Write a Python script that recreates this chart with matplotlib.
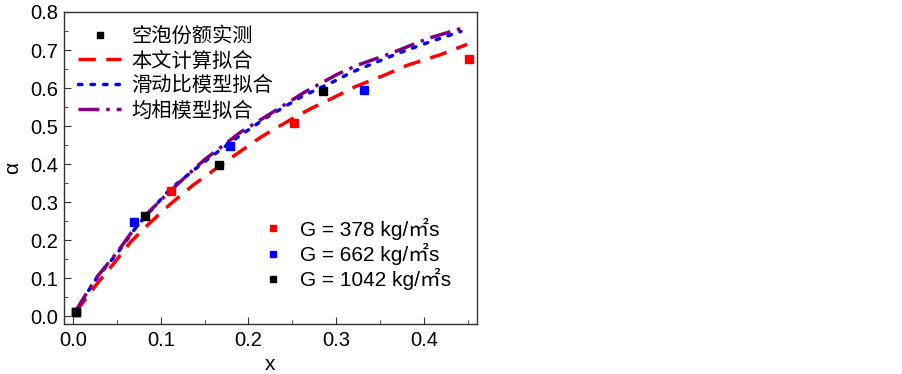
import matplotlib
matplotlib.use("Agg")
import matplotlib.pyplot as plt
from matplotlib.lines import Line2D
from matplotlib.ticker import MultipleLocator

plt.rcParams['font.family'] = ['Liberation Sans', 'Noto Sans CJK SC', 'DejaVu Sans']

# measured void fraction data
x_378 = [0.003, 0.112, 0.252, 0.451]
a_378 = [0.012, 0.329, 0.508, 0.676]
x_662 = [0.003, 0.070, 0.179, 0.332]
a_662 = [0.012, 0.247, 0.448, 0.596]
x_1042 = [0.003, 0.082, 0.166, 0.285]
a_1042 = [0.012, 0.264, 0.399, 0.593]

# fit curves
x_fit_this = [0.003, 0.028, 0.047, 0.066, 0.087, 0.112, 0.137, 0.164, 0.183, 0.214,
              0.248, 0.271, 0.297, 0.322, 0.353, 0.381, 0.419, 0.449]
a_fit_this = [0.010, 0.087, 0.140, 0.196, 0.244, 0.297, 0.345, 0.390, 0.421, 0.471,
              0.517, 0.546, 0.575, 0.604, 0.632, 0.660, 0.688, 0.715]
x_fit_slip = [0.003, 0.018, 0.028, 0.051, 0.069, 0.081, 0.111, 0.149, 0.183, 0.220,
              0.261, 0.296, 0.317, 0.334, 0.370, 0.406, 0.442]
a_fit_slip = [0.012, 0.068, 0.103, 0.167, 0.225, 0.258, 0.335, 0.405, 0.463, 0.522,
              0.578, 0.616, 0.641, 0.657, 0.691, 0.721, 0.749]
x_fit_homo = [0.003, 0.018, 0.028, 0.051, 0.066, 0.081, 0.104, 0.121, 0.149, 0.191,
              0.228, 0.263, 0.301, 0.324, 0.362, 0.404, 0.444]
a_fit_homo = [0.013, 0.070, 0.105, 0.170, 0.218, 0.262, 0.314, 0.351, 0.410, 0.484,
              0.537, 0.588, 0.636, 0.660, 0.691, 0.730, 0.758]

labels_fit = ['本文计算拟合', '滑动比模型拟合', '均相模型拟合']
label_meas = '空泡份额实测'
labels_G = ['G = 378 kg/㎡s', 'G = 662 kg/㎡s', 'G = 1042 kg/㎡s']

fig = plt.figure(figsize=(9.03, 3.74), dpi=100)
ax = fig.add_axes([0.071, 0.134, 0.457, 0.834])

lw = 2.5
l1, = ax.plot(x_fit_this, a_fit_this, color='#ff0000', lw=lw, dashes=(5, 3), dash_capstyle='butt')
l2, = ax.plot(x_fit_slip, a_fit_slip, color='#0000ff', lw=lw, dashes=(1.0, 2.6), dash_capstyle='round')
l3, = ax.plot(x_fit_homo, a_fit_homo, color='#800080', lw=lw, dashes=(6, 2, 1, 2), dash_capstyle='butt')

ms = 6
ax.plot(x_378, a_378, 's', color='#ff0000', ms=ms, zorder=4)
ax.plot(x_662, a_662, 's', color='#0000ff', ms=ms, zorder=4)
ax.plot(x_1042, a_1042, 's', color='#000000', ms=ms, zorder=5)

ax.set_xlim(-0.01, 0.46)
ax.set_ylim(-0.02, 0.8)
ax.xaxis.set_minor_locator(MultipleLocator(0.05))
ax.yaxis.set_minor_locator(MultipleLocator(0.05))
ax.tick_params(which='both', direction='in', labelsize=14.5, top=False, right=False, color='#333333')
ax.tick_params(which='major', length=5)
ax.tick_params(which='minor', length=3)
ax.tick_params(axis='x', pad=5)
ax.tick_params(axis='y', pad=4)
ax.set_xticks([0.0, 0.1, 0.2, 0.3, 0.4])
ax.set_xticklabels(['0.0', '0.1', '0.2', '0.3', '0.4'])
ax.set_yticks([0.0, 0.1, 0.2, 0.3, 0.4, 0.5, 0.6, 0.7, 0.8])
ax.set_yticklabels(['0.0', '0.1', '0.2', '0.3', '0.4', '0.5', '0.6', '0.7', '0.8'])
for s in ax.spines.values():
    s.set_color('#333333')
    s.set_linewidth(1.0)
ax.set_xlabel('x', fontsize=15, labelpad=4)
ax.set_ylabel('α', fontsize=15, labelpad=6)

h_meas = Line2D([], [], marker='s', color='black', ls='none', ms=5)
leg1 = ax.legend([h_meas, l1, l2, l3], [label_meas] + labels_fit, loc='upper left',
                 bbox_to_anchor=(0.0, 1.0), frameon=False, fontsize=14.6,
                 handlelength=2.1, handletextpad=0.5, labelspacing=0.28, borderaxespad=0.3)
ax.add_artist(leg1)

hG = [Line2D([], [], marker='s', color=c, ls='none', ms=5) for c in ['#ff0000', '#0000ff', '#000000']]
ax.legend(hG, labels_G, loc='upper left', bbox_to_anchor=(0.461, 0.368), frameon=False,
          fontsize=15, handlelength=1.0, handletextpad=0.8, labelspacing=0.16, borderaxespad=0.0)

fig.savefig('out.png', dpi=100)
